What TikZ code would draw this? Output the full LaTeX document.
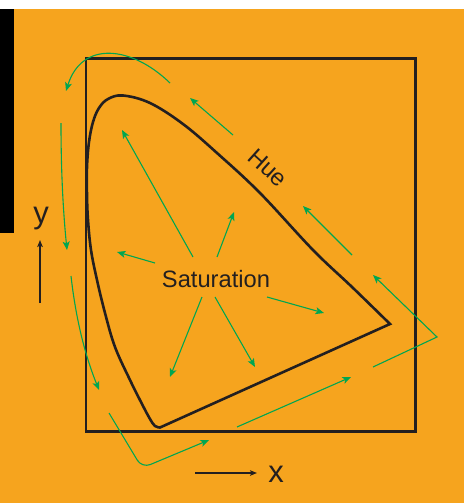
\documentclass[tikz,border=0pt]{standalone}
\usepackage{fontspec}
\setmainfont{Liberation Sans}
\usetikzlibrary{arrows.meta}
\definecolor{bg}{HTML}{F6A41E}
\definecolor{ink}{HTML}{231F20}
\definecolor{grn}{HTML}{00A651}
\begin{document}
\begin{tikzpicture}[x=1pt,y=-1pt,
  garrow/.style={grn, line width=1.1pt, -{Stealth[length=8.5pt,width=7pt,inset=2pt]}},
  karrow/.style={ink, line width=1.2pt, -{Stealth[length=7pt,width=5.5pt,inset=1.5pt]}},
  lbl/.style={text=ink, inner sep=0pt}]
\fill[white] (0,0) rectangle (464,503);
\fill[bg] (0,9) rectangle (464,503);
\fill[black] (0,9) rectangle (14,233);
\useasboundingbox (0,0) rectangle (464,503);
% frame
\draw[ink, line width=2.3pt] (86,58.5) rectangle (415.5,431.5);
% chromaticity curve
\draw[ink, line width=2.6pt, line join=miter] plot[smooth, tension=0.6] coordinates {(390,324) (352,287) (313,250) (260,193) (217,153) (183,124) (150,103) (123,95.5) (108,99) (99,108) (93,122) (89,142) (87,167) (87,195) (88,220) (91,250) (97,280) (105,313) (115,347) (130,380) (142,404) (150,419) (155,426) (160,427.5)} -- cycle;
% hue arrows around
\draw[garrow] (170,83) .. controls (132,46) and (82,40) .. (66,91);
\draw[garrow] (61,123) .. controls (61,170) and (63,210) .. (67,250);
\draw[garrow] (71,276) .. controls (76,320) and (85,355) .. (99,390);
\draw[garrow, rounded corners=9pt] (109,413) -- (142,468) -- (209,440);
\draw[garrow] (237,427) -- (351,377);
\draw[garrow] (373,367) -- (437,337) -- (373,275);
\draw[garrow] (352,255) -- (303,206);
\draw[garrow] (233,135) -- (190,98);
% saturation arrows
\draw[garrow] (193,257) -- (122,130);
\draw[garrow] (217,257) -- (234,212);
\draw[garrow] (155,263) -- (117,252);
\draw[garrow] (267,297) -- (324,313);
\draw[garrow] (202,297) -- (170,377);
\draw[garrow] (215,297) -- (255,367);
% labels
\node[lbl, font=\fontsize{23.7}{28}\selectfont, anchor=base] (sat) at (216,287) {Saturation};
\node[lbl, font=\fontsize{23.7}{28}\selectfont, rotate=-42, text depth=0pt] (hue) at (268,168) {Hue};
\node[lbl, font=\fontsize{31}{36}\selectfont, anchor=base] (ylab) at (41,223.5) {y};
\node[lbl, font=\fontsize{31}{36}\selectfont, anchor=base] (xlab) at (276,482) {x};
% axis arrows
\coordinate (ya) at (40,303);
\coordinate (yb) at (40,240);
\coordinate (xa) at (195,473);
\coordinate (xb) at (257,473);
\draw[karrow] (ya) -- (yb);
\draw[karrow] (xa) -- (xb);
\end{tikzpicture}
\end{document}
